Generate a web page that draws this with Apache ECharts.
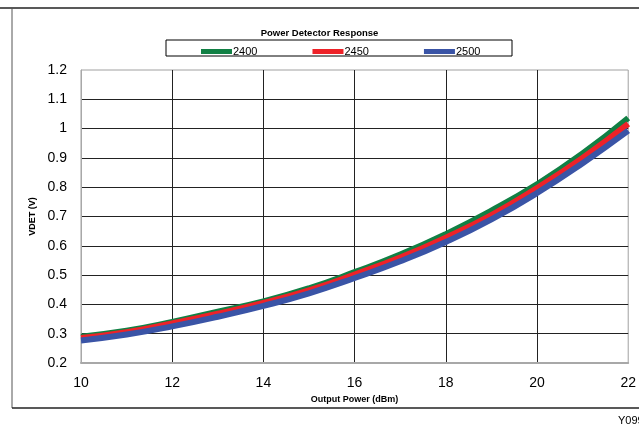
<!DOCTYPE html>
<html><head><meta charset="utf-8">
<script src="https://cdn.jsdelivr.net/npm/echarts@6/dist/echarts.min.js"></script>
<style>html,body{margin:0;padding:0;background:#fff}#c{width:639px;height:427px}</style>
</head><body><div id="c"></div>
<script>
var xValues = [10, 11, 12, 13, 14, 15, 16, 17, 18, 19, 20, 21, 22];
var s2400 = [0.290, 0.310, 0.340, 0.375, 0.410, 0.455, 0.510, 0.570, 0.640, 0.720, 0.810, 0.915, 1.036];
var s2450 = [0.285, 0.305, 0.335, 0.368, 0.405, 0.448, 0.502, 0.560, 0.628, 0.705, 0.797, 0.900, 1.016];
var s2500 = [0.277, 0.297, 0.325, 0.358, 0.395, 0.438, 0.490, 0.547, 0.613, 0.690, 0.780, 0.882, 0.993];
var seriesNames = ['2400', '2450', '2500'];
var seriesColors = ['#118044', '#ee2228', '#3a54a6'];

function pairs(arr){ return xValues.map(function(x,i){ return [x, arr[i]]; }); }
var all = [s2400, s2450, s2500];

var chart = echarts.init(document.getElementById('c'));
chart.setOption({
  animation: false,
  backgroundColor: '#fff',
  title: {
    text: 'Power Detector Response', left: 'center', top: 23,
    textStyle: { fontFamily: 'Arial, Liberation Sans', fontSize: 9.5, fontWeight: 'bold', color: '#000' }
  },
  legend: {
    left: 196, top: 41, itemWidth: 31, itemHeight: 5, itemGap: 55, icon: 'rect',
    data: seriesNames,
    textStyle: { fontFamily: 'Arial, Liberation Sans', fontSize: 11, color: '#000', padding: [0,0,0,-4] }
  },
  grid: { left: 81, right: 9, top: 70, bottom: 64, show: true, borderColor: '#a0a0a0', borderWidth: 1 },
  xAxis: {
    type: 'value', min: 10, max: 22, interval: 2,
    name: 'Output Power (dBm)', nameLocation: 'middle', nameGap: 32,
    nameTextStyle: { fontFamily: 'Arial, Liberation Sans', fontSize: 9, fontWeight: 'bold', color: '#000' },
    axisLine: { show: true, lineStyle: { color: '#a8a8a8', width: 2 } },
    axisTick: { show: false },
    axisLabel: { fontFamily: 'Arial, Liberation Sans', fontSize: 14, color: '#000', margin: 13 },
    splitLine: { show: true, showMinLine: false, showMaxLine: false, lineStyle: { color: '#222', width: 1 } }
  },
  yAxis: {
    type: 'value', min: 0.2, max: 1.2, interval: 0.1,
    name: 'VDET (V)', nameLocation: 'middle', nameGap: 44, nameRotate: 90,
    nameTextStyle: { fontFamily: 'Arial, Liberation Sans', fontSize: 9, fontWeight: 'bold', color: '#000' },
    axisLine: { show: true, lineStyle: { color: '#a8a8a8', width: 1 } },
    axisTick: { show: false },
    axisLabel: { fontFamily: 'Arial, Liberation Sans', fontSize: 14, color: '#000', margin: 14,
      formatter: function(v){ return String(Math.round(v*10)/10); } },
    splitLine: { show: true, showMinLine: false, showMaxLine: false, lineStyle: { color: '#222', width: 1 } }
  },
  series: all.map(function(arr, i){
    return {
      name: seriesNames[i], type: 'line', data: pairs(arr), smooth: true,
      showSymbol: false, symbol: 'none', color: seriesColors[i],
      lineStyle: { width: 6, color: seriesColors[i] }
    };
  }),
  graphic: [
    { type: 'rect', shape: { x: 166, y: 40, width: 346, height: 16 },
      style: { fill: null, stroke: '#000', lineWidth: 1 }, z: -1 },
    { type: 'line', shape: { x1: 0, y1: 8, x2: 639, y2: 8 }, style: { stroke: '#222', lineWidth: 1.5 } },
    { type: 'line', shape: { x1: 12, y1: 8, x2: 12, y2: 408 }, style: { stroke: '#555', lineWidth: 1 } },
    { type: 'line', shape: { x1: 12, y1: 408, x2: 639, y2: 408 }, style: { stroke: '#222', lineWidth: 1.5 } },
    { type: 'text', left: 618, top: 415, style: { text: 'Y099', fontFamily: 'Arial Narrow, Liberation Sans Narrow, Arial', fontSize: 11, fill: '#000' } }
  ]
});
</script></body></html>
